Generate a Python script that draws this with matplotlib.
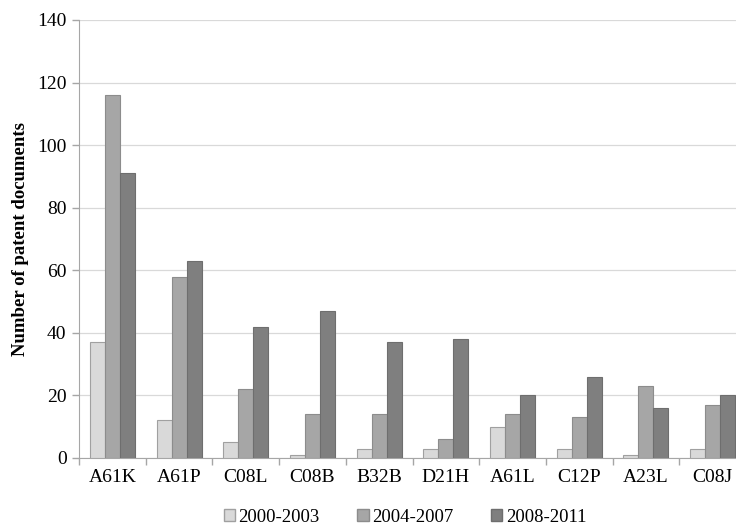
import numpy as np
import matplotlib.pyplot as plt
from matplotlib.patches import Patch

categories = ["A61K", "A61P", "C08L", "C08B", "B32B", "D21H", "A61L", "C12P", "A23L", "C08J"]
series_names = ["2000-2003", "2004-2007", "2008-2011"]
vals_2000_2003 = [37, 12, 5, 1, 3, 3, 10, 3, 1, 3]
vals_2004_2007 = [116, 58, 22, 14, 14, 6, 14, 13, 23, 17]
vals_2008_2011 = [91, 63, 42, 47, 37, 38, 20, 26, 16, 20]

colors = ["#d9d9d9", "#a6a6a6", "#7f7f7f"]
edges = ["#a0a0a0", "#8c8c8c", "#6e6e6e"]

plt.rcParams['font.family'] = ['Liberation Serif', 'DejaVu Serif']

fig = plt.figure(figsize=(7.36, 5.26), dpi=100)
ax = fig.add_axes([79 / 736, 68 / 526, 667 / 736, 438 / 526])

x = np.arange(len(categories))
w = 0.225
for i, vals in enumerate([vals_2000_2003, vals_2004_2007, vals_2008_2011]):
    ax.bar(x + (i - 1) * w, vals, width=w, color=colors[i], edgecolor=edges[i],
           linewidth=0.8, zorder=3)

ax.set_xlim(-0.5, len(categories) - 0.5)
ax.set_ylim(0, 140)
ax.set_yticks(range(0, 141, 20))
ax.yaxis.grid(True, color="#d9d9d9", linewidth=0.9, zorder=0)
ax.set_axisbelow(True)

ax.set_xticks(x)
ax.set_xticklabels(categories, fontsize=14)
ax.tick_params(axis='x', length=0, pad=8)
ax.set_xticks(np.arange(-0.5, len(categories), 1), minor=True)
ax.tick_params(axis='x', which='minor', length=5, color="#a6a6a6", width=1)
ax.tick_params(axis='y', labelsize=14, length=5, color="#a6a6a6", width=1, pad=4)

for s in ["top", "right"]:
    ax.spines[s].set_visible(False)
for s in ["left", "bottom"]:
    ax.spines[s].set_color("#a6a6a6")

ax.set_ylabel("Number of patent documents", fontsize=13.5, fontweight='bold', labelpad=6)

handles = [Patch(facecolor=colors[i], edgecolor=edges[i], label=series_names[i]) for i in range(3)]
fig.legend(handles=handles, loc='center', bbox_to_anchor=(405 / 736, 1 - 517 / 526), ncol=3,
           frameon=False, fontsize=13.5, handlelength=0.6, handleheight=0.6,
           handletextpad=0.2, columnspacing=2.0)

fig.savefig("out.png", dpi=100)
